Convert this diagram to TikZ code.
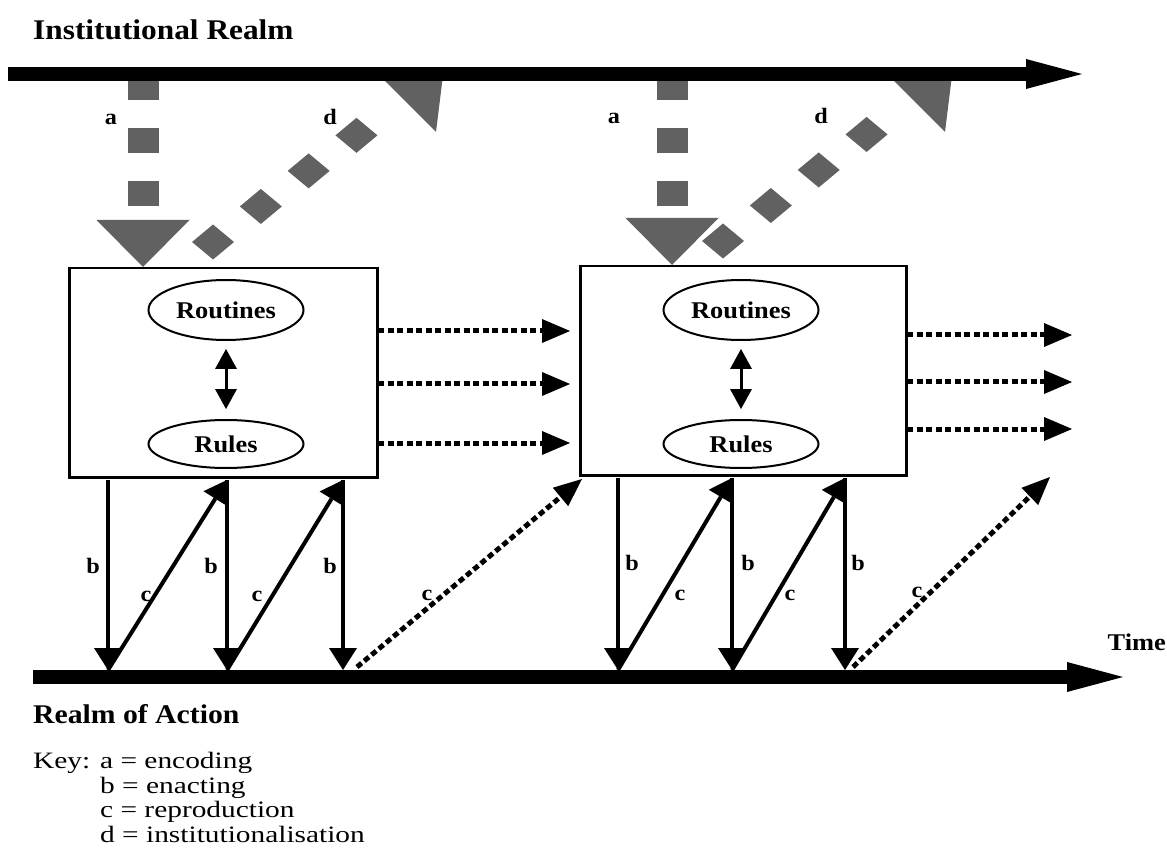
\documentclass[tikz,border=0pt]{standalone}
\usepackage{fontspec}
\setmainfont{Liberation Serif}[FakeStretch=1.1]
\newfontfamily\keyfam{Liberation Serif}[FakeStretch=1.25]
\usetikzlibrary{arrows.meta,shapes.geometric,decorations.markings,calc}
\definecolor{dgray}{gray}{0.38}
\newcommand{\ttlfont}{\bfseries\fontsize{28.5pt}{30pt}\selectfont}
\newcommand{\actfont}{\bfseries\fontsize{27pt}{30pt}\selectfont}
\newcommand{\lblfont}{\bfseries\fontsize{22pt}{24pt}\selectfont}
\newcommand{\rtfont}{\bfseries\fontsize{24pt}{26pt}\selectfont}
\newcommand{\keyfont}{\keyfam\fontsize{23.5pt}{25pt}\selectfont}
\begin{document}
\begin{tikzpicture}[x=1pt,y=-1pt,
  bar/.style={line width=14pt,-{Triangle[length=56pt,width=30pt,line width=0pt]}},
  aarrow/.style={dgray,line width=31pt,dash pattern=on 25pt off 28pt,
    -{Triangle[length=47pt,width=93pt,line width=0pt]}},
  diamonds/.style={postaction={decorate},decoration={markings,
    mark=between positions 0pt and 185pt step 59.6pt with {\pgftransformresetnontranslations
      \fill[dgray] (-21,0)--(0,17.5)--(21,0)--(0,-17.5)--cycle;}}},
  bline/.style={line width=4pt,-{Triangle[length=22pt,width=28pt,line width=0pt]}},
  dotarrow/.style={line width=5pt,dash pattern=on 6pt off 3.5pt,
    -{Triangle[length=28pt,width=24pt,line width=0pt]}},
  dbl/.style={line width=3pt,{Triangle[length=20pt,width=22pt,line width=0pt]}-{Triangle[length=20pt,width=22pt,line width=0pt]}},
  box/.style={draw,line width=2.5pt,inner sep=0pt,anchor=north west},
  ell/.style={ellipse,draw,line width=2pt,inner sep=0pt,font=\rtfont},
  lbl/.style={font=\lblfont,anchor=base,inner sep=0pt},
  keytxt/.style={font=\keyfont,anchor=base west,inner sep=0pt}
]
\useasboundingbox (0,0) rectangle (1167,858);

% bars
\coordinate (TB0) at (8,74);
\coordinate (TB1) at (1082,74);
\coordinate (BB0) at (33,677);
\coordinate (BB1) at (1123,677);

% boxes
\node[box,minimum width=308pt,minimum height=209pt] (box1) at (68,267) {};
\node[box,minimum width=326pt,minimum height=209pt] (box2) at (579,265) {};

% ellipses
\node[ell,minimum width=155pt,minimum height=60pt] (rout1) at (226,310) {Routines};
\node[ell,minimum width=155pt,minimum height=48pt] (rules1) at (226,444) {\raisebox{-6pt}{Rules}};
\node[ell,minimum width=155pt,minimum height=60pt] (rout2) at (741,310) {Routines};
\node[ell,minimum width=155pt,minimum height=48pt] (rules2) at (741,444) {\raisebox{-6pt}{Rules}};
\draw[dbl,shorten <=8pt,shorten >=10pt] (rout1.south) -- (rules1.north);
\draw[dbl,shorten <=8pt,shorten >=10pt] (rout2.south) -- (rules2.north);

% a arrows (encoding)
\coordinate (a1) at (143,75);
\coordinate (a2) at (672,75);
\draw[aarrow] (a1) -- (a1 |- box1.north);
\draw[aarrow] (a2) -- (a2 |- box2.north);

% d arrows (institutionalisation)
\coordinate (d1s) at (213,242);
\coordinate (d1h) at (404,100);
\coordinate (d2s) at (723,241);
\coordinate (d2h) at (913,100);
\begin{scope}
\clip (0,69) rectangle (1167,858);
\path[diamonds] (d1s) -- (d1h);
\path[diamonds] (d2s) -- (d2h);
\fill[dgray] ($(d1h)+(32,32)$) -- ($(d1h)+(-32,-32)$) -- ($(d1h)+(41,-41)$) -- cycle;
\fill[dgray] ($(d2h)+(32,32)$) -- ($(d2h)+(-32,-32)$) -- ($(d2h)+(41,-41)$) -- cycle;
\end{scope}

\draw[bar] (TB0) -- (TB1);
\draw[bar] (BB0) -- (BB1);

% horizontal dotted arrows
\foreach \y [count=\i] in {331,384,443}{
  \coordinate (hs\i) at (378,\y);
  \coordinate (he\i) at (570,\y);
  \draw[dotarrow] (hs\i) -- (he\i);
}
\foreach \y [count=\i] in {335,382,429}{
  \coordinate (ks\i) at (907,\y);
  \coordinate (ke\i) at (1072,\y);
  \draw[dotarrow] (ks\i) -- (ke\i);
}

% b and c arrows, block 1
\coordinate (u1) at (108,480); \coordinate (l1) at (108,670);
\coordinate (u2) at (227,480); \coordinate (l2) at (227,670);
\coordinate (u3) at (343,480); \coordinate (l3) at (343,670);
\draw[bline] (u1) -- (l1);
\draw[bline] (u2) -- (l2);
\draw[bline] (u3) -- (l3);
\draw[bline] (l1) -- (u2);
\draw[bline] (l2) -- (u3);
\coordinate (e1) at (357,667); \coordinate (f1) at (582,479);
\draw[dotarrow] (e1) -- (f1);

% b and c arrows, block 2
\coordinate (v1) at (618,478); \coordinate (m1) at (618,670);
\coordinate (v2) at (732,478); \coordinate (m2) at (732,670);
\coordinate (v3) at (845,478); \coordinate (m3) at (845,670);
\draw[bline] (v1) -- (m1);
\draw[bline] (v2) -- (m2);
\draw[bline] (v3) -- (m3);
\draw[bline] (m1) -- (v2);
\draw[bline] (m2) -- (v3);
\coordinate (e2) at (853,667); \coordinate (f2) at (1050,477);
\draw[dotarrow] (e2) -- (f2);

% labels
\node[lbl] (la1) at (111,125) {a};
\node[lbl] (ld1) at (330,125) {d};
\node[lbl] (la2) at (614,124) {a};
\node[lbl] (ld2) at (821,124) {d};
\node[lbl] (lb1) at (93,573) {b};
\node[lbl] (lb2) at (211,573) {b};
\node[lbl] (lb3) at (330,573) {b};
\node[lbl] (lc1) at (146,601) {c};
\node[lbl] (lc2) at (257,601) {c};
\node[lbl] (lc3) at (427,600) {c};
\node[lbl] (lb4) at (632,570) {b};
\node[lbl] (lb5) at (748,570) {b};
\node[lbl] (lb6) at (858,570) {b};
\node[lbl] (lc4) at (680,600) {c};
\node[lbl] (lc5) at (790,600) {c};
\node[lbl] (lc6) at (917,597) {c};

% titles
\node[font=\ttlfont,anchor=base west,inner sep=0pt] (inst) at (33,40) {Institutional Realm};
\node[font=\actfont,anchor=base west,inner sep=0pt] (act) at (33,723) {Realm of Action};
\node[font=\rtfont,anchor=base east,inner sep=0pt] (time) at (1166,650) {Time};

% key
\node[keytxt] (key) at (33,768) {Key:};
\node[keytxt] (ka) at (100,768) {a = encoding};
\node[keytxt] (kb) at (100,793) {b = enacting};
\node[keytxt] (kc) at (100,817) {c = reproduction};
\node[keytxt] (kd) at (100,842) {d = institutionalisation};
\end{tikzpicture}
\end{document}
